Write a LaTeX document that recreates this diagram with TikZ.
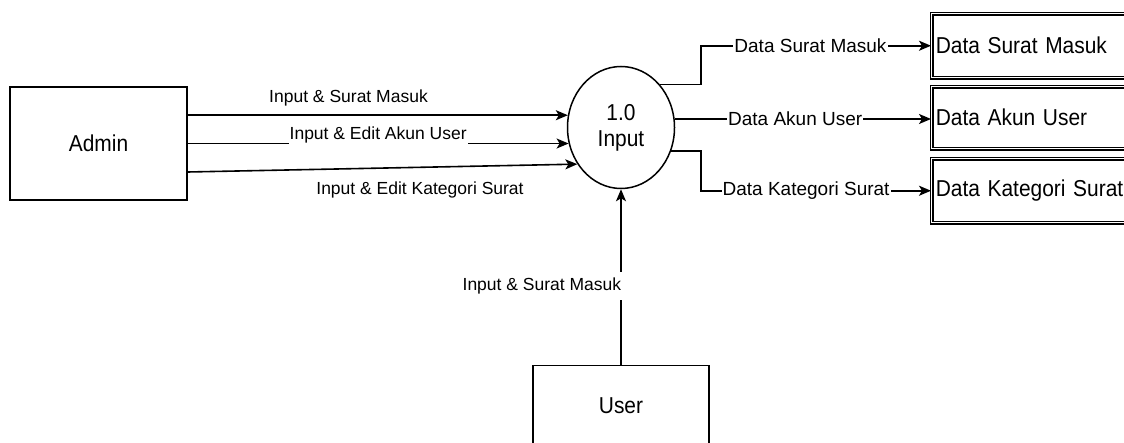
\documentclass[tikz,border=0pt]{standalone}
\usepackage{fontspec}
\setmainfont{Liberation Sans}
\newfontfamily\boxfont[FakeStretch=0.91]{Liberation Sans}
\usetikzlibrary{shapes.geometric,arrows.meta}
\begin{document}
\begin{tikzpicture}[x=1pt,y=-1pt,
  every node/.style={inner sep=0pt},
  boxtxt/.style={font=\fontsize{23}{26}\selectfont\boxfont},
  entity/.style={draw, line width=1.5pt, boxtxt},
  proc/.style={ellipse, draw, line width=1.5pt, minimum width=107,
    minimum height=122, align=center, boxtxt},
  store/.style={draw, double, line width=1.5pt, double distance=1.1pt,
    anchor=north west, minimum width=260, text width=252, inner xsep=4pt,
    align=left, boxtxt},
  flow/.style={line width=1.6pt, -{Stealth[length=12pt,width=10pt,inset=3pt]}},
  lbl/.style={font=\fontsize{17.5}{20}\selectfont},
  lblw/.style={lbl, fill=white, inner xsep=1pt, inner ysep=2pt},
  olbl/.style={font=\fontsize{19}{22}\selectfont, fill=white, inner xsep=1pt, inner ysep=1pt}]

\useasboundingbox (0,0) rectangle (1124,443);
\clip (0,0) rectangle (1124,443);
\fill[white] (0,0) rectangle (1124,443);

% external entities
\node[entity, minimum width=177, minimum height=113] (admin) at (98.5,143.5) {Admin};
\node[entity, minimum width=176, minimum height=80, anchor=north] (user) at (621,365) {User};

% process
\node[proc] (c) at (621,127.5) {1.0\\Input};

% data stores
\node[store, minimum height=64] (ds1) at (931,13) {Data Surat Masuk};
\node[store, minimum height=62] (ds2) at (931,86) {Data Akun User};
\node[store, minimum height=64] (ds3) at (931,158) {Data Kategori Surat};

\coordinate (bx) at (701,0);

% flows from Admin
\draw[flow] (admin.east |- c.167) -- (c.167);
\node[lbl, anchor=base] (l1) at (348.5,103) {Input \& Surat Masuk};
\draw[flow] (admin.east |- c.197) -- node[lblw, pos=0.5, anchor=base, yshift=4pt] (l2) {Input \& Edit Akun User} (c.197);
\draw[flow] ([yshift=-28.5pt]admin.east) -- (c.220);
\node[lbl, anchor=base] (l3) at (420,195) {Input \& Edit Kategori Surat};

% flow from User
\draw[flow] (user.north) -- node[lbl, fill=white, pos=0.45, anchor=east, xshift=2pt, inner xsep=1pt, inner ysep=5.5pt] (l4) {Input \& Surat Masuk} (c.south);

% flows to the data stores
\draw[flow] (c.48) -| (bx |- ds1.west) -- node[olbl, pos=0.476] (o1) {Data Surat Masuk} (ds1.west);
\draw[flow] (c.9) -- node[olbl, pos=0.47] (o2) {Data Akun User} (ds2.west |- c.9);
\draw[flow] (c.335) -| (bx |- ds3.west) -- node[olbl, pos=0.457] (o3) {Data Kategori Surat} (ds3.west);
\end{tikzpicture}
\end{document}
